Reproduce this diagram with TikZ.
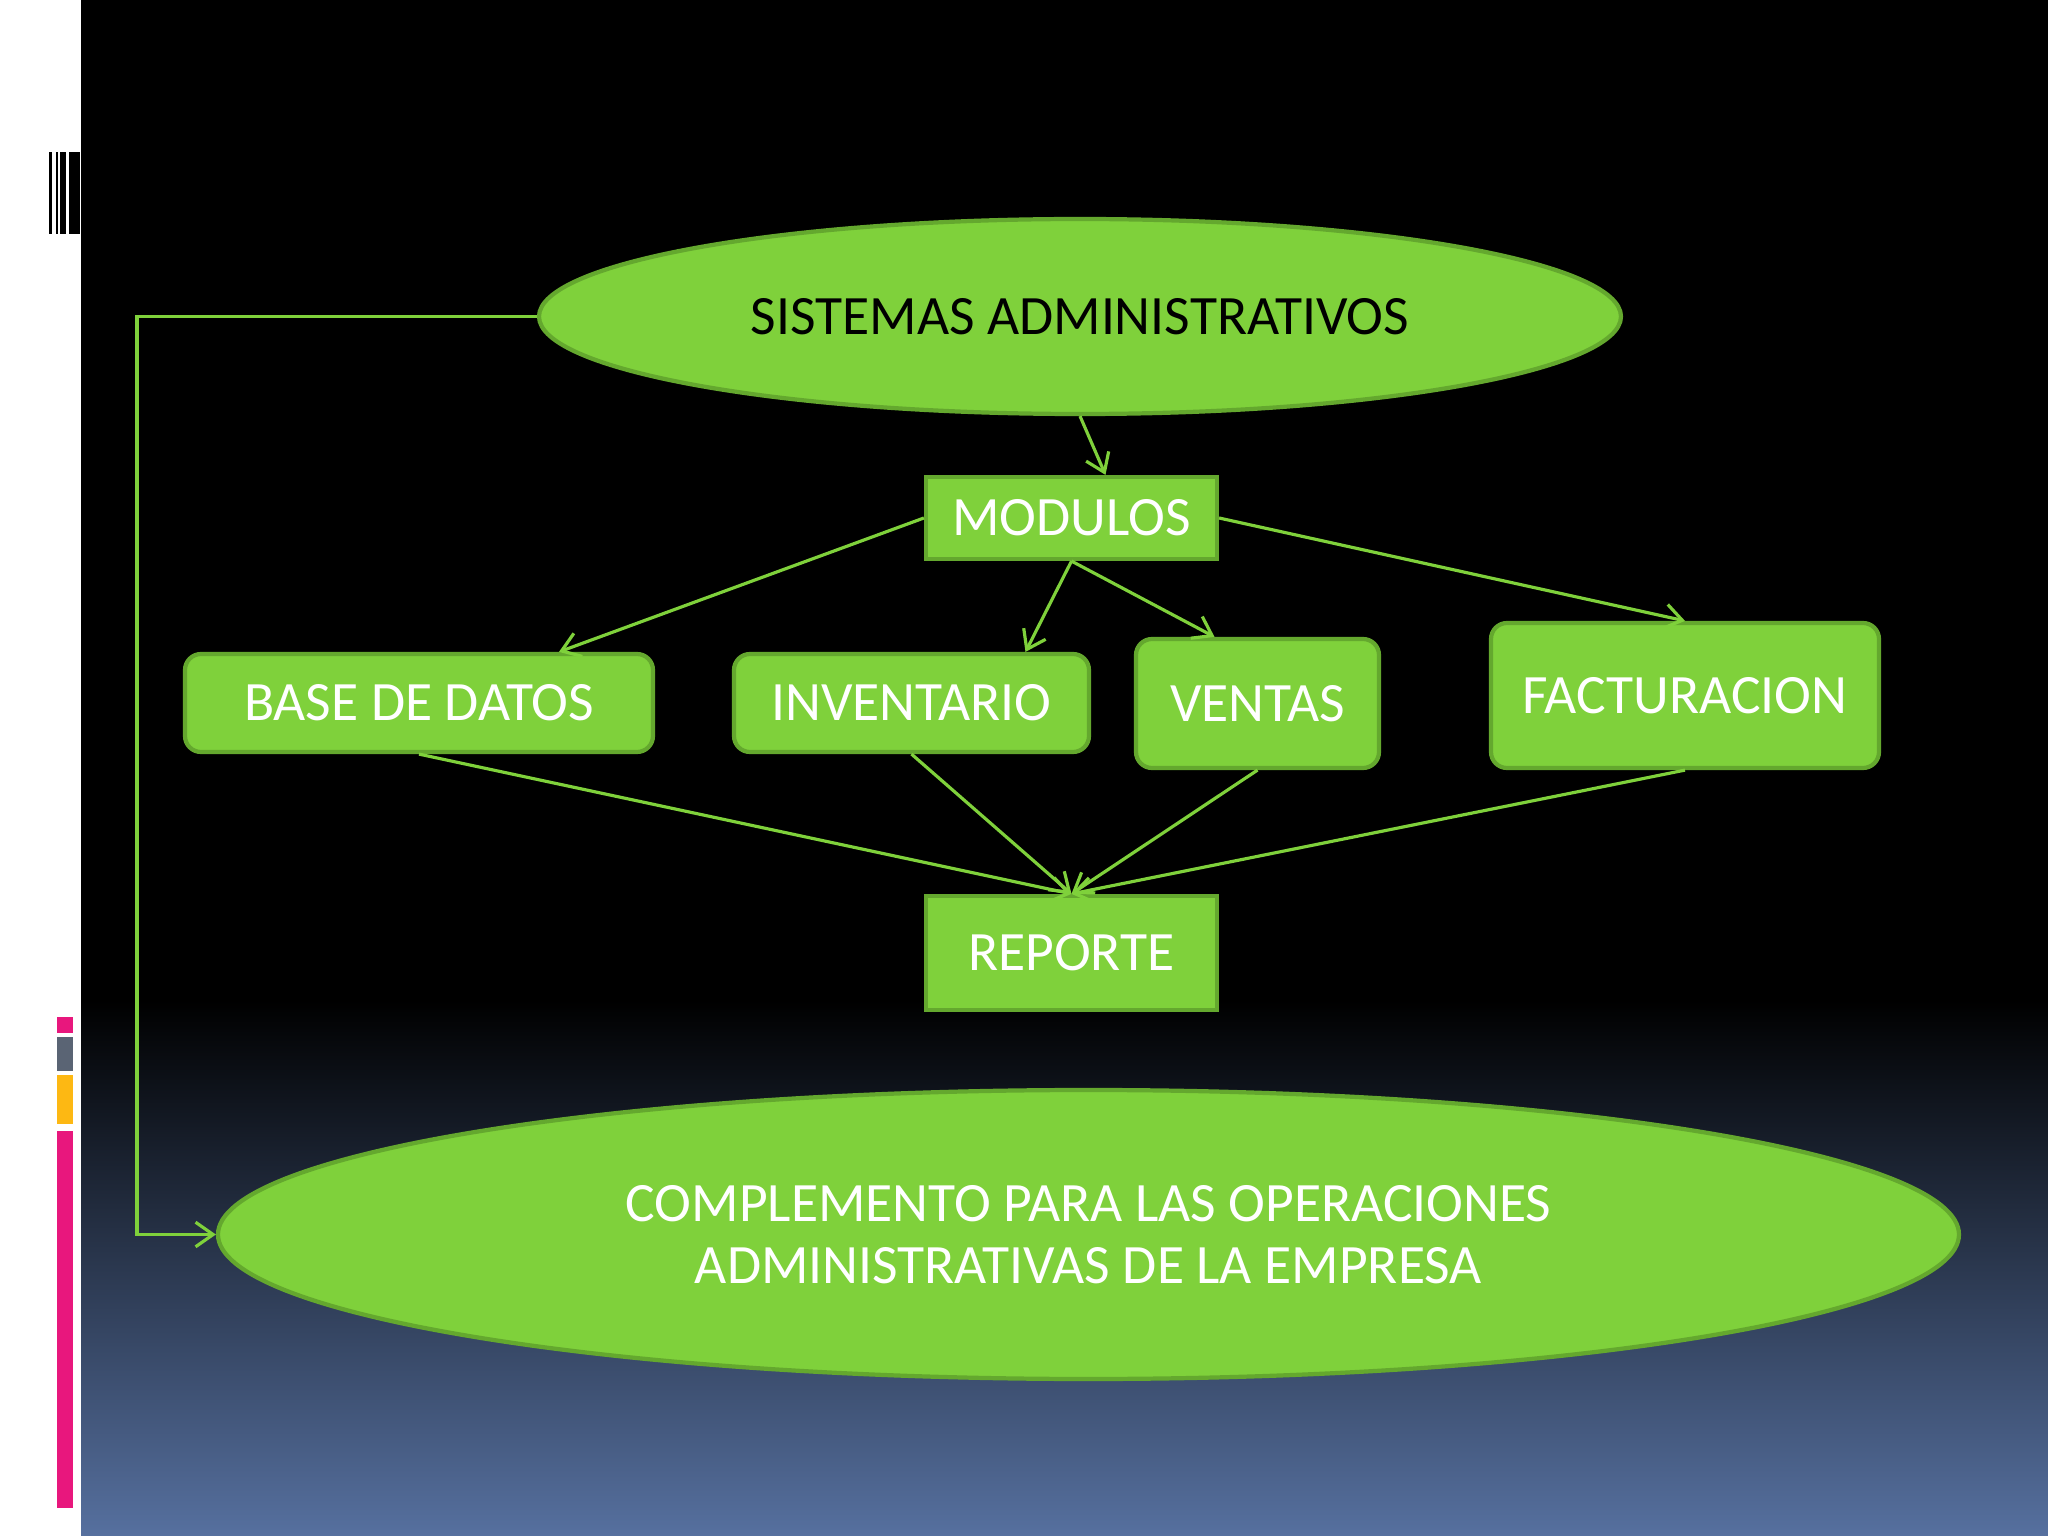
\documentclass[tikz,border=0pt]{standalone}
\usepackage{fontspec}
\setmainfont{Carlito}
\usepackage{tikz}
\usetikzlibrary{arrows.meta}
\usetikzlibrary{shapes.geometric}

\definecolor{leafgreen}{HTML}{7FD13B}
\definecolor{leafedge}{HTML}{64A82E}
\definecolor{slateblue}{HTML}{56709F}
\definecolor{barpink}{HTML}{E8177D}
\definecolor{bargray}{HTML}{5A6474}
\definecolor{baramber}{HTML}{FDB813}

\tikzset{
	modbox/.style = {draw = leafedge, line width = 1.2pt, fill = leafgreen, text = white, inner sep = 0pt, font = \fontsize{15.8}{18}\selectfont},
	roundbox/.style = {modbox, rounded corners = 1.6mm},
	oval/.style = {ellipse, draw = leafedge, line width = 1.2pt, fill = leafgreen, inner sep = 0pt},
	link/.style = {-{Straight Barb[length = 5pt, width = 7pt]}, draw = leafgreen, line width = 0.9pt}
}

\begin{document}
\begin{tikzpicture}
	\useasboundingbox (0,0) rectangle (20.48,-15.36);
	
	\fill [white] (0,0) rectangle (0.81,-15.36);
	\fill [black] (0.81,0) rectangle (20.48,-10.0);
	\shade [top color = black, bottom color = slateblue] (0.81,-10.0) rectangle (20.48,-15.36);
	
	\fill [black] (0.49,-1.52) rectangle (0.52,-2.34);
	\fill [black] (0.557,-1.52) rectangle (0.583,-2.34);
	\fill [black] (0.597,-1.52) rectangle (0.663,-2.34);
	\fill [black] (0.69,-1.52) rectangle (0.80,-2.34);
	
	\fill [barpink] (0.57,-10.17) rectangle (0.73,-10.33);
	\fill [bargray] (0.57,-10.37) rectangle (0.73,-10.71);
	\fill [baramber] (0.57,-10.75) rectangle (0.73,-11.24);
	\fill [barpink] (0.57,-11.31) rectangle (0.73,-15.08);
	
	\node (sistemas) [oval, minimum width = 10.82cm, minimum height = 1.95cm, font = \fontsize{15.8}{18}\selectfont] at (10.80,-3.165) {SISTEMAS ADMINISTRATIVOS};
	\node (modulos) [modbox, minimum width = 2.91cm, minimum height = 0.82cm] at (10.715,-5.18) {MODULOS};
	
	\node (basedatos) [roundbox, minimum width = 4.68cm, minimum height = 0.98cm] at (4.19,-7.03) {BASE DE DATOS};
	\node (inventario) [roundbox, minimum width = 3.55cm, minimum height = 0.98cm] at (9.115,-7.03) {INVENTARIO};
	\node (ventas) [roundbox, minimum width = 2.43cm, minimum height = 1.29cm] at (12.575,-7.035) {VENTAS};
	\node (facturacion) [roundbox, minimum width = 3.88cm, minimum height = 1.45cm] at (16.85,-6.955) {FACTURACION};
	
	\node (reporte) [modbox, minimum width = 2.91cm, minimum height = 1.14cm] at (10.715,-9.53) {REPORTE};
	
	\node (complemento) [oval, text = white, align = center, minimum width = 17.41cm, minimum height = 2.89cm, font = \fontsize{15.8}{17.5}\selectfont] at (10.885,-12.345) {COMPLEMENTO PARA LAS OPERACIONES\\ADMINISTRATIVAS DE LA EMPRESA};
	
	\draw [link] (sistemas.south) -- ([xshift = 3.4mm]modulos.north);
	\draw [link] (modulos.west) -- ([xshift = 14mm]basedatos.north);
	\draw [link] (modulos.south) -- ([xshift = 11.4mm]inventario.north);
	\draw [link] (modulos.south) -- ([xshift = -4.3mm]ventas.north);
	\draw [link] (modulos.east) -- (facturacion.north);
	
	\draw [link] (basedatos.south) -- (reporte.north);
	\draw [link] (inventario.south) -- (reporte.north);
	\draw [link] (ventas.south) -- (reporte.north);
	\draw [link] (facturacion.south) -- (reporte.north);
	
	\coordinate (bend) at (1.37,-3.165);
	\draw [link] (sistemas.west) -- (bend) |- (complemento.west);
\end{tikzpicture}
\end{document}
